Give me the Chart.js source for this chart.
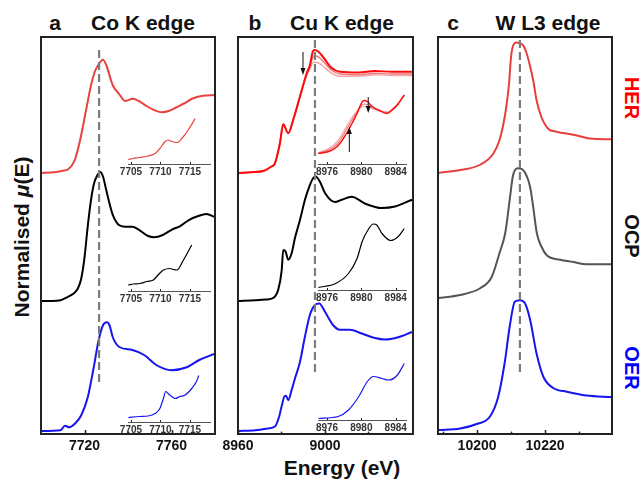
<!DOCTYPE html>
<html>
<head>
<meta charset="utf-8">
<script src="https://cdn.jsdelivr.net/npm/chart.js@4.4.1/dist/chart.umd.min.js"></script>
<style>
  body { margin: 0; background: #fff; }
  #fig { position: relative; width: 643px; height: 479px; overflow: hidden;
         font-family: "Liberation Sans", Arial, sans-serif; }
  .t { position: absolute; transform: translate(-50%, -50%); white-space: nowrap;
       font-weight: bold; line-height: 1; color: #111; }
  .title { font-size: 21px; }
  .side { font-size: 20px; transform: translate(-50%, -50%) rotate(90deg); }
  .ylab { font-size: 21px; transform: translate(-50%, -50%) rotate(-90deg); }
  .xlab { font-size: 21px; }
</style>
</head>
<body>
<div id="fig">
  <div class="t title" style="left:55px;top:22px">a</div>
  <div class="t title" style="left:143px;top:22px">Co K edge</div>
  <div class="t title" style="left:255px;top:22px">b</div>
  <div class="t title" style="left:342px;top:22px">Cu K edge</div>
  <div class="t title" style="left:453px;top:22px">c</div>
  <div class="t title" style="left:548px;top:22px">W L3 edge</div>
  <div class="t side" style="left:632px;top:98px;color:#ff0000">HER</div>
  <div class="t side" style="left:632px;top:236px;color:#111">OCP</div>
  <div class="t side" style="left:632px;top:368px;color:#0000ff">OER</div>
  <div class="t ylab" style="left:21px;top:237px">Normalised <i>μ</i>(E)</div>
  <div class="t xlab" style="left:342px;top:467px">Energy (eV)</div>
</div>
<script>
// ---- Co K edge (panel a), normalised absorption ----
const coE_HER = [7700,7706,7710,7712.5,7715.5,7718,7721,7723,7725,7727,7728.5,7730,7733,7736,7738.6,7742.3,7745,7748.7,7752,7755.6,7759,7762.5,7766,7769.4,7774.5,7780];
const coHER   = [0,0.01,0.03,0.05,0.17,0.44,0.88,1.17,1.37,1.47,1.51,1.44,1.17,1.05,0.96,0.99,0.96,0.89,0.84,0.81,0.83,0.88,0.93,0.99,1.03,1.04];
const coE_OCP = [7700,7705,7709,7712,7715,7717,7718.5,7720,7721.5,7723,7724.5,7726,7727.2,7728.5,7730,7731.5,7733,7736,7739,7742,7745,7749,7752,7756,7760,7764,7768,7772,7776,7780];
const coOCP   = [0,0,0.01,0.05,0.1,0.17,0.3,0.58,1.0,1.35,1.58,1.68,1.72,1.66,1.48,1.3,1.15,1.01,0.99,0.99,0.95,0.87,0.85,0.88,0.95,1.0,1.08,1.13,1.16,1.12];
const coE_OER = [7700,7709,7711,7713,7716,7718.5,7721.5,7724,7726.5,7728.5,7730.3,7731.5,7733,7736,7742,7747.6,7753,7760,7767,7773,7780];
const coOER   = [0,0.01,0.07,0.05,0.11,0.21,0.45,0.81,1.21,1.41,1.45,1.41,1.25,1.12,1.08,1.01,0.88,0.81,0.85,0.95,1.03];
// pre-edge insets
const coInE_HER = [7704.55,7705.4,7706.5,7707.9,7709.1,7709.9,7710.8,7711.3,7711.9,7712.8,7713.9,7714.7,7715.9];
const coInHER   = [0.09,0.11,0.13,0.16,0.21,0.31,0.45,0.48,0.45,0.43,0.55,0.68,0.91];
const coInE_OCP = [7704.55,7705.4,7706.5,7707.7,7708.8,7709.6,7710.5,7711.6,7712.2,7712.8,7713.9,7714.7,7715.3];
const coInOCP   = [0.12,0.14,0.15,0.19,0.22,0.32,0.42,0.45,0.43,0.42,0.62,0.79,0.92];
const coInE_OER = [7704.55,7706.5,7707.9,7709.1,7709.9,7710.5,7710.9,7711.3,7711.9,7712.5,7713.3,7714.2,7715.3,7716.1,7716.5];
const coInOER   = [0.09,0.11,0.12,0.17,0.27,0.47,0.61,0.57,0.51,0.47,0.51,0.54,0.67,0.81,0.93];

// ---- Cu K edge (panel b) ----
const cuE_HER  = [8960,8966,8972,8975,8977,8979.3,8980.8,8983.1,8985.4,8988.5,8991.6,8993.1,8994.2,8995.1,8996.9,8998.5,9003.1,9006.9,9015.3,9023,9030.7,9040];
const cuHER    = [0,0.01,0.03,0.08,0.13,0.4,0.65,0.53,0.71,1.02,1.33,1.44,1.6,1.64,1.62,1.57,1.4,1.35,1.34,1.36,1.35,1.35];
const cuHER_p1 = [0,0.01,0.03,0.08,0.13,0.4,0.65,0.53,0.71,1.02,1.32,1.42,1.53,1.56,1.55,1.51,1.37,1.32,1.31,1.33,1.32,1.32];
const cuHER_p2 = [0,0.01,0.03,0.08,0.13,0.4,0.65,0.53,0.71,1.02,1.30,1.39,1.46,1.48,1.47,1.44,1.33,1.29,1.29,1.31,1.30,1.30];
const cuE_OCP  = [8960,8968,8973,8976.2,8978.5,8980.1,8980.8,8981.9,8983.1,8984.7,8986.2,8988.5,8990.8,8993.1,8994.6,8995.7,8997.7,9000,9004.6,9007.7,9012.3,9018.4,9026.1,9032.2,9040];
const cuOCP    = [0,0.01,0.02,0.04,0.15,0.41,0.68,0.66,0.55,0.64,0.84,1.08,1.35,1.55,1.64,1.66,1.59,1.44,1.32,1.35,1.39,1.3,1.24,1.26,1.35];
const cuE_OER  = [8960,8968,8973,8977,8978.9,8980.4,8981.3,8982.1,8983.1,8984.7,8986.2,8988.5,8990.8,8993.1,8995.4,8997.4,9000,9003.8,9006.9,9011.5,9016.9,9023,9027.6,9033.7,9040];
const cuOER    = [0,0.01,0.03,0.06,0.19,0.37,0.46,0.47,0.41,0.55,0.70,0.92,1.26,1.55,1.68,1.70,1.59,1.41,1.35,1.35,1.30,1.24,1.22,1.25,1.32];
const cuInE_HER  = [8975,8976.2,8977.2,8977.9,8978.5,8978.9,8979.5,8979.9,8980.3,8980.7,8981.2,8982,8983,8983.6,8984.2,8985];
const cuInHER    = [0.21,0.25,0.35,0.51,0.68,0.81,1.01,1.18,1.27,1.25,1.16,1.08,1.01,1.08,1.18,1.38];
const cuInHER_p1 = [0.22,0.28,0.40,0.58,0.76,0.88,1.04,1.15,1.20,1.19,1.13,1.07,1.03,1.09,1.19,1.38];
const cuInHER_p2 = [0.23,0.31,0.45,0.64,0.82,0.93,1.06,1.12,1.15,1.15,1.11,1.07,1.04,1.10,1.20,1.38];
const cuInE_OCP  = [8975,8977,8978.5,8979.5,8980.1,8980.7,8981.4,8981.8,8982.4,8983.4,8984.3,8985];
const cuInOCP    = [0.05,0.13,0.33,0.63,0.97,1.18,1.32,1.3,1.13,0.99,1.07,1.23];
const cuInE_OER  = [8975,8977.3,8978.5,8979.7,8980.7,8981.4,8982.4,8983.2,8984.2,8985];
const cuInOER    = [0.03,0.07,0.2,0.47,0.77,0.87,0.83,0.8,0.9,1.13];

// ---- W L3 edge (panel c) ----
const wE_HER = [10188.5,10195,10200.9,10204.8,10206.6,10207.6,10208.6,10209.4,10210,10210.7,10211.5,10213.4,10214.4,10215.4,10216.5,10217.5,10218.9,10220.9,10223.4,10228.3,10233.2,10239.6];
const wHER   = [0,0.04,0.11,0.26,0.44,0.62,0.88,1.19,1.55,1.71,1.74,1.71,1.62,1.46,1.24,0.97,0.75,0.59,0.55,0.51,0.46,0.45];
const wE_OCP = [10188.5,10195,10200.9,10204.3,10206.6,10208.3,10209.6,10210.6,10212.1,10214,10215.6,10216.5,10217.6,10219,10220.5,10224.4,10228.3,10232.2,10239.6];
const wOCP   = [0,0.04,0.13,0.28,0.60,0.87,1.31,1.64,1.73,1.68,1.48,1.22,0.86,0.68,0.57,0.51,0.48,0.45,0.45];
const wE_OER = [10188.5,10195,10199.9,10203.8,10206.2,10208.1,10209.6,10211.1,10212.6,10214.1,10215.6,10217.5,10219.5,10222.4,10226.4,10232.2,10239.6];
const wOER   = [0,0.02,0.08,0.18,0.44,0.89,1.38,1.71,1.73,1.69,1.47,1.02,0.71,0.56,0.51,0.46,0.44];

// edge positions (dashed guides) and axis ticks
const coEdge = 7726.7, cuEdge = 8995.4, wEdge = 10212.6;
const coTicks = [7720, 7760], cuTicks = [8960, 9000], wTicks = [10200, 10220];
const coInTicks = [7705, 7710, 7715], cuInTicks = [8976, 8980, 8984];

const fig = document.getElementById('fig');
const UNIT = 75;      // px per normalised unit, main panels
const IN_UNIT = 50;   // px per unit, insets
const FONT = '"Liberation Sans", Arial, sans-serif';

const framePlugin = {
  id: 'frame',
  afterDraw(chart, args, o) {
    const {ctx, chartArea: a, scales: {x, y}} = chart;
    ctx.save();
    ctx.strokeStyle = o.color;
    if (o.box) {
      ctx.lineWidth = 2;
      ctx.strokeRect(a.left, a.top, a.right - a.left, a.bottom - a.top);
    }
    ctx.lineWidth = o.box ? 1.5 : 1;
    const tick = (v, len) => {
      const px = Math.round(x.getPixelForValue(v)) + 0.5;
      ctx.beginPath(); ctx.moveTo(px, a.bottom); ctx.lineTo(px, a.bottom - len); ctx.stroke();
    };
    (o.major || []).forEach(v => tick(v, o.len));
    (o.minor || []).forEach(v => tick(v, o.len * 0.6));
    (o.arrows || []).forEach(ar => {
      const px = x.getPixelForValue(ar.x), p0 = y.getPixelForValue(ar.y0), p1 = y.getPixelForValue(ar.y1);
      const d = Math.sign(p1 - p0);
      ctx.strokeStyle = '#111'; ctx.fillStyle = '#111'; ctx.lineWidth = 1;
      ctx.beginPath(); ctx.moveTo(px, p0); ctx.lineTo(px, p1 - d * 5); ctx.stroke();
      ctx.beginPath(); ctx.moveTo(px, p1); ctx.lineTo(px - 2.5, p1 - d * 7); ctx.lineTo(px + 2.5, p1 - d * 7);
      ctx.closePath(); ctx.fill();
    });
    ctx.restore();
  }
};

function addCanvas(left, top, w, h) {
  const c = document.createElement('canvas');
  c.width = w; c.height = h;
  c.style.cssText = `position:absolute;left:${left}px;top:${top}px;width:${w}px;height:${h}px`;
  fig.appendChild(c);
  return c;
}

function line(e, v, off, color, w) {
  return {
    data: e.map((x, i) => ({x: x, y: v[i] + off})),
    borderColor: color, borderWidth: w, pointRadius: 0,
    cubicInterpolationMode: 'monotone', fill: false
  };
}

function drawPanel(plot, xr, ticks, sets, edge, edgeY, frameOpts, inset) {
  const [L, T, W, H] = plot;
  const pad = inset ? 15 : 25, top = inset ? 5 : 10, axisH = inset ? 16 : 30;
  const datasets = [];
  if (edge !== null) {
    datasets.push({
      data: [{x: edge, y: edgeY[0]}, {x: edge, y: edgeY[1]}],
      borderColor: '#7c7c7c', borderWidth: 2.2, borderDash: [8, 4], pointRadius: 0
    });
  }
  datasets.push(...sets);
  new Chart(addCanvas(L - pad, T - top, W + 2 * pad, H + top + axisH), {
    type: 'line',
    data: {datasets},
    options: {
      responsive: false, animation: false, events: [],
      layout: {padding: {left: pad, right: pad, top: top, bottom: 0}},
      plugins: {legend: {display: false}, tooltip: {enabled: false},
                frame: Object.assign({color: '#222', len: 4, major: ticks}, frameOpts)},
      scales: {
        x: {
          type: 'linear', min: xr[0], max: xr[1],
          afterBuildTicks: ax => { ax.ticks = ticks.map(v => ({value: v})); },
          afterFit: ax => { ax.height = axisH; },
          grid: {display: false, drawTicks: false},
          border: inset ? {display: true, color: '#555', width: 1} : {display: false},
          ticks: {autoSkip: false, maxRotation: 0, padding: inset ? 2 : 4,
                  color: inset ? '#333' : '#111',
                  callback: v => String(v),
                  font: {family: FONT, weight: 'bold', size: inset ? 10 : 14}}
        },
        y: {display: false, min: 0, max: H / (inset ? IN_UNIT : UNIT)}
      }
    },
    plugins: [framePlugin]
  });
}

// vertical offsets of the stacked spectra (HER, OCP, OER)
const offAB = [3.48, 1.773, 0.04];
const offC  = [3.48, 1.813, 0.053];

// panel a
drawPanel([41, 37, 174, 397], [7700, 7780], coTicks, [
  line(coE_HER, coHER, offAB[0], '#e8433f', 2),
  line(coE_OCP, coOCP, offAB[1], '#000000', 2),
  line(coE_OER, coOER, offAB[2], '#1515ee', 2)
], coEdge, [5.12, 0.653], {box: true, minor: [7740]}, false);

// panel b
drawPanel([238, 37, 175, 397], [8960, 9040.5], cuTicks, [
  line(cuE_HER, cuHER, offAB[0], '#ff0a0a', 2),
  line(cuE_HER, cuHER_p1, offAB[0], '#f07a7a', 1.5),
  line(cuE_HER, cuHER_p2, offAB[0], '#f4a8a8', 1.5),
  line(cuE_OCP, cuOCP, offAB[1], '#000000', 2),
  line(cuE_OER, cuOER, offAB[2], '#1515ee', 2)
], cuEdge, [5.253, 0.827], {box: true, minor: [8980, 9020], arrows: [{x: 8989.9, y0: 5.093, y1: 4.787}]}, false);

// panel c
drawPanel([438, 37, 174, 397], [10188.5, 10239.7], wTicks, [
  line(wE_HER, wHER, offC[0], '#e63f3f', 2),
  line(wE_OCP, wOCP, offC[1], '#555555', 2),
  line(wE_OER, wOER, offC[2], '#1515ee', 2)
], wEdge, [5.253, 0.827], {box: true, minor: [10190, 10210, 10230]}, false);

// insets, panel a
drawPanel([128, 114, 82, 50], [7704.5, 7718.4], coInTicks, [line(coInE_HER, coInHER, 0, '#e8433f', 1.2)], null, null, {box: false, len: 2}, true);
drawPanel([128, 241, 82, 50], [7704.5, 7718.4], coInTicks, [line(coInE_OCP, coInOCP, 0, '#000000', 1.2)], null, null, {box: false, len: 2}, true);
drawPanel([128, 372, 82, 50], [7704.5, 7718.4], coInTicks, [line(coInE_OER, coInOER, 0, '#1515ee', 1.2)], null, null, {box: false, len: 2}, true);

// insets, panel b
drawPanel([318, 89, 88, 75], [8974.95, 8985.2], cuInTicks, [
  line(cuInE_HER, cuInHER, 0, '#ff0a0a', 1.4),
  line(cuInE_HER, cuInHER_p1, 0, '#f07a7a', 1.2),
  line(cuInE_HER, cuInHER_p2, 0, '#f4a8a8', 1.2)
], null, null, {box: false, len: 2, arrows: [{x: 8978.6, y0: 0.24, y1: 0.74}, {x: 8980.8, y0: 1.34, y1: 1.02}]}, true);
drawPanel([318, 215, 88, 75], [8974.95, 8985.2], cuInTicks, [line(cuInE_OCP, cuInOCP, 0, '#000000', 1.2)], null, null, {box: false, len: 2}, true);
drawPanel([318, 345, 88, 75], [8974.95, 8985.2], cuInTicks, [line(cuInE_OER, cuInOER, 0, '#1515ee', 1.2)], null, null, {box: false, len: 2}, true);
</script>
</body>
</html>
